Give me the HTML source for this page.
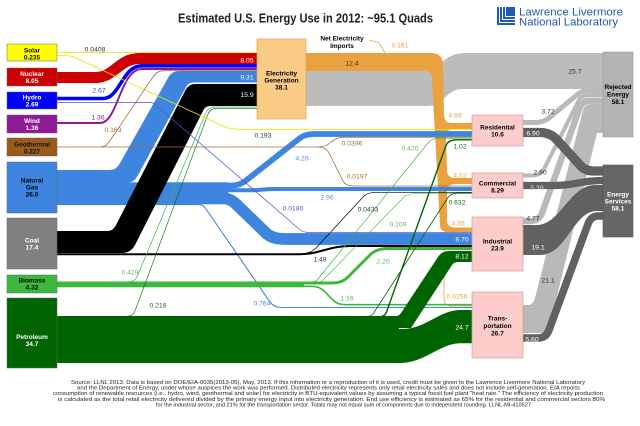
<!DOCTYPE html>
<html><head><meta charset="utf-8">
<style>
html,body{margin:0;padding:0;background:#fff;}
svg{display:block;}
text{font-family:"Liberation Sans",Arial,sans-serif;}
.b{font-weight:bold;font-size:6.5px;text-anchor:middle;}
.v{font-size:6.8px;text-anchor:middle;}
.f{font-size:5.6px;fill:#222;}
</style></head><body>
<svg width="640" height="426" viewBox="0 0 640 426" xmlns="http://www.w3.org/2000/svg">
<rect width="640" height="426" fill="#fff"/>

<!-- light gray (rejected) flows from sectors -->
<g fill="none" stroke="#b9b9b9">
<path d="M523,122.5 H535 Q545,122.5 552,115.5 L578,94 Q582,90.5 590,90.5 H603" stroke-width="5"/>
<path d="M523,175.5 H532 Q541,175.5 545,167 L579,100 Q582,95 590,95 H603" stroke-width="4"/>
<path d="M523,221 H530 Q539,221 542,213 L580,107 Q583,100.7 591,100.7 H603" stroke-width="6.4"/>
</g>
<path d="M523,305 H528 Q533,305 535,298 L583,110 Q585,104 592,104 H603 V133 H597 L553,312 Q549,333 540,333 H523 Z" fill="#b9b9b9"/>

<!-- dark gray (energy services) flows -->
<g fill="none" stroke="#616161">
<path d="M523,132.5 H540 Q551,132.5 558,141 L580,165 Q585,171 593,171 H603" stroke-width="9.3"/>
<path d="M523,185.5 H555 C575,185.5 580,180.5 603,180.5" stroke-width="7.3"/>
<path d="M523,338 H538 Q546,338 549,330 L588,224 Q591,216 598,216 H603" stroke-width="7.6"/>
</g>
<path d="M523,225 H537 C560,225 570,185 595,185 H603 V211 H597 C573,211 567,255 540,255 H523 Z" fill="#616161"/>

<!-- rejected from electricity generation -->
<path d="M306,71 H428 C441,71 441,53 466,53 H603 V89 H462 C446,89 444,106 428,106 H306 Z" fill="#bcbcbc"/>

<!-- orange electricity -->
<path d="M306,53 H431 Q443,53 443,65 L444,115 Q444,123 452,123 H472 V129.3 H454 Q446,129.3 446,137 L447,170 Q447,178 455,178 H472 V184 H455 Q447,184 447,192 L447,220 Q447,227.5 455,227.5 H472 V232 H448 Q440,232 440,225 L432,80 Q432,71 425,71 H306 Z" fill="#e9a23f"/>
<path d="M444,232 V299 Q444,306 451,306 H472" fill="none" stroke="#e9a23f" stroke-width="0.8"/>
<path d="M369,41 Q378,40 381,46 L385,53" fill="none" stroke="#e9a23f" stroke-width="0.8"/>

<!-- nuclear, hydro, wind -->
<path d="M57,77.5 H95 C115,77.5 118,58.5 140,58.5 H257" fill="none" stroke="#cc0000" stroke-width="11"/>
<path d="M57,98.5 H103 C120,98.5 122,65.8 142,65.8 H257" fill="none" stroke="#0000ff" stroke-width="3.6"/>
<path d="M57,123 H100 C118,123 120,69 142,69 H257" fill="none" stroke="#8e1b95" stroke-width="1.9"/>

<!-- natural gas -->
<path d="M57,170 H110 Q116,170 119.5,164 L168.5,77 Q172,71 179,71 H257 V82.5 H193 Q188,82.5 185.5,88 L137.5,176 Q134,182.6 127,182.6 H57 Z" fill="#3d85de"/>
<rect x="57" y="182.3" width="171" height="22" fill="#3d85de"/>
<g fill="none" stroke="#3d85de">
<path d="M222,185.5 H232 Q240,185.5 246,180.5 L300,138 Q305,134 315,134 H472" stroke-width="5.75"/>
<path d="M222,190.3 H250 C262,190.3 262,189 275,189 H472" stroke-width="4"/>
<path d="M222,198.2 Q230,198.2 236,204 L266,233 Q272,239 285,239 H472" stroke-width="11.7"/>
<path d="M57,204.6 H199 Q203,204.6 206,209 L270,302 Q274,307.5 282,307.5 H472" stroke-width="1.1"/>
</g>

<!-- coal -->
<path d="M57,231 H108 Q113,231 116,225 L185.5,90 Q189,84 195,84 H257 V106 H210 Q205,106 203,111 L135,245 Q131,253 122,253 H57 Z" fill="#000"/>
<path d="M57,254.2 H300 C320,254.2 328,246 350,246 H472" fill="none" stroke="#000" stroke-width="2"/>
<path d="M300,254 Q310,254 316,248 L364,196 Q368,192.3 376,192.3 H472" fill="none" stroke="#000" stroke-width="0.7"/>

<!-- biomass -->
<g fill="none" stroke="#3cb93c">
<path d="M57,284.4 H304" stroke-width="5.8"/>
<path d="M300,283 H333 Q342,283 348,277 L371,254 Q377,248.5 388,248.5 H472" stroke-width="3"/>
<path d="M300,286.3 H312 Q320,286.3 325,292 L334,301 Q338,304.7 346,304.7 H472" stroke-width="1.6"/>
<path d="M128,281.8 Q135,281.8 137,277 L206,112.5 Q208.5,107 215,107 H257" stroke-width="0.7"/>
<path d="M312,282 Q316,282 318,279 L428,143 Q432,138.3 440,138.3 H472" stroke-width="0.7"/>
<path d="M318,282 Q322,282 324,279 L404,197 Q408,193.5 416,193.5 H472" stroke-width="0.6"/>
</g>

<!-- petroleum -->
<rect x="57" y="316" width="342" height="47" fill="#006400"/>
<path d="M380,316 H396 Q399,316 401,313 L438,257 Q442,251 449,251 H472 V262 H458 Q454,262 452,265 L411,328 H380 Z" fill="#006400"/>
<path d="M395,329 L403,329 C425,329 440,310 460,310 H472 V343.3 H460 C440,343.3 425,363 400,363 H395 Z" fill="#006400"/>
<g fill="none" stroke="#006400">
<path d="M368,316.3 Q372,316.3 374,312.5 L448,197.5 Q451,193 459,193 H472" stroke-width="0.8"/>
<path d="M381,316.3 Q385,316.3 386.5,312 L446,145.5 Q448.5,139.8 456,139.8 H472" stroke-width="1.4"/>
<path d="M126,316.3 Q133,316.3 135,311 L208,114 Q210.5,108.3 217,108.3 H257" stroke-width="0.6"/>
</g>

<!-- solar -->
<path d="M57,52.6 H257" fill="none" stroke="#e6e600" stroke-width="0.8"/>
<path d="M57,55.5 H66 Q71,55.5 76,58 L224,126.5 Q230,129.3 240,129.3 H472" fill="none" stroke="#e6e600" stroke-width="0.8"/>

<!-- hydro 0.0180 -->
<path d="M57,102.5 H150 Q154,102.5 157,106 L299,229 Q303,232.6 310,232.6 H472" fill="none" stroke="#5c4fd0" stroke-width="0.7"/>

<!-- geothermal -->
<g fill="none" stroke="#a0703a" stroke-width="0.8">
<path d="M57,147 H322"/>
<path d="M100,147 Q106,147 109,142 L153,77 Q157,70.7 164,70.7 H257"/>
<path d="M318,147 Q326,147 331,142 L334,140 Q338,137.2 346,137.2 H472"/>
<path d="M318,147 Q326,147 329,153 L343,181 Q346,186 353,186 H472"/>
</g>

<!-- source boxes -->
<g stroke="#666" stroke-width="0.5">
<rect x="7" y="44" width="50" height="17" fill="#ffff00"/>
<rect x="7" y="68" width="50" height="18" fill="#cc0000"/>
<rect x="7" y="92" width="50" height="17" fill="#0000ff"/>
<rect x="7" y="115" width="50" height="18" fill="#8e1b95"/>
<rect x="7" y="138" width="50" height="18" fill="#9a5c1c"/>
<rect x="7" y="162" width="50" height="51" fill="#3d85de"/>
<rect x="7" y="218" width="50" height="51" fill="#808080"/>
<rect x="7" y="275" width="50" height="18" fill="#3cb93c"/>
<rect x="7" y="298" width="50" height="70" fill="#006400"/>
</g>
<rect x="257" y="39" width="49" height="80" fill="#f9cb84" stroke="#d9a55a" stroke-width="0.7"/>
<g fill="#ffcccc" stroke="#c9a0a0" stroke-width="0.7">
<rect x="472" y="115" width="51" height="31"/>
<rect x="472" y="173" width="51" height="25"/>
<rect x="472" y="217" width="51" height="54"/>
<rect x="472" y="292" width="51" height="66"/>
</g>
<rect x="603" y="52" width="30" height="85" fill="#b3b3b3" stroke="#999" stroke-width="0.6"/>
<rect x="603" y="165" width="30" height="72" fill="#666" stroke="#555" stroke-width="0.6"/>

<!-- box labels -->
<text class="b" x="32" y="52.5" fill="#000">Solar</text>
<text class="b" x="32" y="59.5" fill="#000">0.235</text>
<text class="b" x="32" y="75.8" fill="#fff">Nuclear</text>
<text class="b" x="32" y="82.8" fill="#fff">8.05</text>
<text class="b" x="32" y="99.3" fill="#fff">Hydro</text>
<text class="b" x="32" y="106.3" fill="#fff">2.69</text>
<text class="b" x="32" y="122.8" fill="#fff">Wind</text>
<text class="b" x="32" y="129.8" fill="#fff">1.36</text>
<text class="b" x="32" y="146.3" fill="#111">Geothermal</text>
<text class="b" x="32" y="153.3" fill="#111">0.227</text>
<text class="b" x="32" y="182.3" fill="#000">Natural</text>
<text class="b" x="32" y="189.3" fill="#000">Gas</text>
<text class="b" x="32" y="196.3" fill="#000">26.0</text>
<text class="b" x="32" y="242.3" fill="#fff">Coal</text>
<text class="b" x="32" y="249.3" fill="#fff">17.4</text>
<text class="b" x="32" y="282.3" fill="#000">Biomass</text>
<text class="b" x="32" y="289.3" fill="#000">4.32</text>
<text class="b" x="32" y="338.8" fill="#fff">Petroleum</text>
<text class="b" x="32" y="345.8" fill="#fff">34.7</text>
<text class="b" x="281.5" y="75.3" fill="#000">Electricity</text>
<text class="b" x="281.5" y="82.3" fill="#000">Generation</text>
<text class="b" x="281.5" y="89.3" fill="#000">38.1</text>
<text class="b" x="497.5" y="129.3" fill="#000">Residential</text>
<text class="b" x="497.5" y="136.3" fill="#000">10.6</text>
<text class="b" x="497.5" y="185.3" fill="#000">Commercial</text>
<text class="b" x="497.5" y="192.3" fill="#000">8.29</text>
<text class="b" x="497.5" y="243.3" fill="#000">Industrial</text>
<text class="b" x="497.5" y="250.3" fill="#000">23.9</text>
<text class="b" x="497.5" y="320.3" fill="#000">Trans-</text>
<text class="b" x="497.5" y="328" fill="#000">portation</text>
<text class="b" x="497.5" y="335.3" fill="#000">26.7</text>
<text class="b" x="618" y="89" fill="#000">Rejected</text>
<text class="b" x="618" y="96.3" fill="#000">Energy</text>
<text class="b" x="618" y="104" fill="#000">58.1</text>
<text class="b" x="618" y="196.3" fill="#fff">Energy</text>
<text class="b" x="618" y="203.3" fill="#fff">Services</text>
<text class="b" x="618" y="210.6" fill="#fff">58.1</text>
<text class="b" x="342" y="40.3" fill="#000">Net Electricity</text>
<text class="b" x="342" y="48" fill="#000">Imports</text>

<!-- value labels -->
<text class="v" x="95" y="51.4" fill="#333">0.0408</text>
<text class="v" x="247" y="62.4" fill="#fff">8.05</text>
<text class="v" x="247" y="79.4" fill="#fff">9.31</text>
<text class="v" x="247" y="96.8" fill="#fff">15.9</text>
<text class="v" x="99" y="92.4" fill="#3344cc">2.67</text>
<text class="v" x="98" y="119.4" fill="#8e1b95">1.36</text>
<text class="v" x="113" y="131.9" fill="#a0703a">0.163</text>
<text class="v" x="263" y="137.4" fill="#333">0.193</text>
<text class="v" x="352" y="65.4" fill="#333">12.4</text>
<text class="v" x="400" y="47.4" fill="#e9a23f">0.161</text>
<text class="v" x="575" y="73.4" fill="#333">25.7</text>
<text class="v" x="455" y="117.4" fill="#e9a23f">4.69</text>
<text class="v" x="548" y="113.4" fill="#333">3.72</text>
<text class="v" x="533" y="135.4" fill="#fff">6.90</text>
<text class="v" x="460" y="148.4" fill="#1a6b1a">1.02</text>
<text class="v" x="410" y="150.4" fill="#55bb55">0.420</text>
<text class="v" x="302" y="160.4" fill="#5588dd">4.26</text>
<text class="v" x="352" y="145.4" fill="#a0703a">0.0396</text>
<text class="v" x="357" y="178.4" fill="#a0703a">0.0197</text>
<text class="v" x="460" y="177.4" fill="#e9a23f">4.52</text>
<text class="v" x="540" y="174.4" fill="#333">2.90</text>
<text class="v" x="537" y="189.9" fill="#ddd">5.39</text>
<text class="v" x="327" y="199.4" fill="#5588dd">2.96</text>
<text class="v" x="457" y="204.4" fill="#1a6b1a">0.632</text>
<text class="v" x="293" y="210.4" fill="#5c4fd0">0.0180</text>
<text class="v" x="368" y="211.4" fill="#333">0.0433</text>
<text class="v" x="533" y="220.4" fill="#333">4.77</text>
<text class="v" x="458" y="225.4" fill="#e9a23f">3.35</text>
<text class="v" x="398" y="226.4" fill="#55bb55">0.109</text>
<text class="v" x="462" y="241.4" fill="#fff">8.70</text>
<text class="v" x="538" y="249.4" fill="#fff">19.1</text>
<text class="v" x="320" y="261.4" fill="#333">1.48</text>
<text class="v" x="462" y="258.4" fill="#fff">8.12</text>
<text class="v" x="383" y="263.4" fill="#55bb55">2.20</text>
<text class="v" x="130" y="274.4" fill="#55bb55">0.429</text>
<text class="v" x="548" y="282.4" fill="#333">21.1</text>
<text class="v" x="347" y="300.4" fill="#55bb55">1.16</text>
<text class="v" x="457" y="298.4" fill="#e9a23f">0.0256</text>
<text class="v" x="262" y="305.4" fill="#5588dd">0.764</text>
<text class="v" x="158" y="307.4" fill="#1a6b1a">0.218</text>
<text class="v" x="462" y="329.4" fill="#fff">24.7</text>
<text class="v" x="532" y="341.4" fill="#fff">5.60</text>

<!-- title -->
<text x="178" y="22.5" font-size="12.5" font-weight="bold" fill="#222" textLength="255" lengthAdjust="spacingAndGlyphs">Estimated U.S. Energy Use in 2012: ~95.1 Quads</text>

<!-- logo -->
<rect x="497" y="7" width="18" height="18" fill="#1f5bb5"/>
<path d="M499.5,7 V22.5 H515 M502.5,7 V19.5 H515 M505.5,7 V16.5 H515" fill="none" stroke="#fff" stroke-width="1"/>
<text x="519" y="15.5" font-size="11" fill="#1f5bb5" textLength="104" lengthAdjust="spacingAndGlyphs">Lawrence Livermore</text>
<text x="519" y="25.5" font-size="11" fill="#1f5bb5" textLength="99" lengthAdjust="spacingAndGlyphs">National Laboratory</text>

<!-- footer -->
<text class="f" x="71" y="384" textLength="514" lengthAdjust="spacingAndGlyphs">Source: LLNL 2013. Data is based on DOE/EIA-0035(2013-05), May, 2013. If this information or a reproduction of it is used, credit must be given to the Lawrence Livermore National Laboratory</text>
<text class="f" x="77" y="389.6" textLength="503" lengthAdjust="spacingAndGlyphs">and the Department of Energy, under whose auspices the work was performed. Distributed electricity represents only retail electricity sales and does not include self-generation.  EIA reports</text>
<text class="f" x="53" y="395.2" textLength="550" lengthAdjust="spacingAndGlyphs">consumption of renewable resources (i.e., hydro, wind, geothermal and solar) for electricity in BTU-equivalent values by assuming a typical fossil fuel plant "heat rate."  The efficiency of electricity production</text>
<text class="f" x="58" y="400.8" textLength="547" lengthAdjust="spacingAndGlyphs">is calculated as the total retail electricity delivered divided by the primary energy input into electricity generation.  End use efficiency is estimated as 65% for the residential and commercial sectors 80%</text>
<text class="f" x="156" y="406.4" textLength="375" lengthAdjust="spacingAndGlyphs">for the industrial sector, and 21% for the transportation sector.  Totals may not equal sum of components due to independent rounding. LLNL-MI-410527</text>
</svg>
</body></html>
